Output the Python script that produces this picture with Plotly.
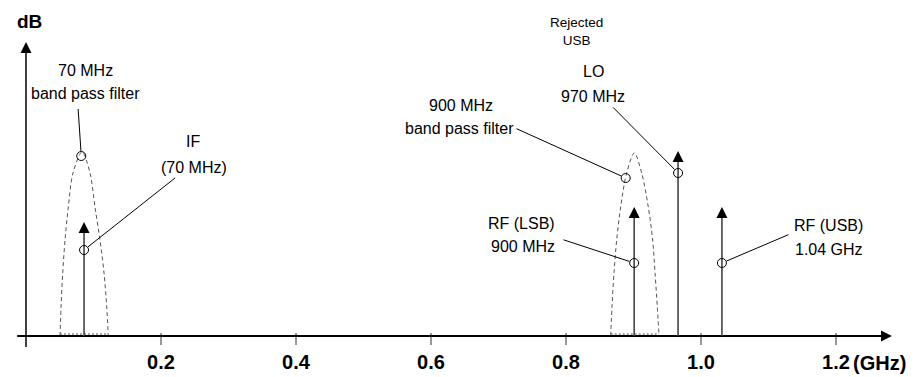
import plotly.graph_objects as go

# ---------------- data ----------------
TICK_VALUES = [0.2, 0.4, 0.6, 0.8, 1.0, 1.2]
TICK_LABELS = ["0.2", "0.4", "0.6", "0.8", "1.0", "1.2"]
X_UNIT = "(GHz)"
Y_UNIT = "dB"

SIGNAL_NAMES = ["IF", "RF (LSB)", "LO", "RF (USB)"]
SIGNAL_FREQ = [0.086, 0.901, 0.966, 1.031]      # GHz (as drawn)
SIGNAL_PEAK = [11.4, 12.9, 18.5, 12.9]          # arrow tip level
SIGNAL_MARK = [8.6, 7.3, 16.3, 7.3]             # callout circle level

BPF70_FREQ = [0.0504, 0.0519, 0.0544, 0.0578, 0.0627, 0.0696, 0.0830,
              0.0948, 0.1022, 0.1096, 0.1156, 0.1196, 0.1219]
BPF70_LEVEL = [0, 2.9, 6.3, 9.6, 12.9, 16.3, 18.4, 16.3, 12.9, 9.6, 6.3, 2.9, 0]
BPF900_FREQ = [0.8662, 0.8681, 0.8711, 0.8751, 0.8810, 0.8899, 0.9012,
               0.9121, 0.9219, 0.9284, 0.9319, 0.9353, 0.9378]
BPF900_LEVEL = [0, 2.9, 6.3, 9.6, 12.9, 16.3, 18.3, 16.3, 12.9, 9.6, 6.3, 2.9, 0]
BPF_MARK_FREQ = [0.0819, 0.8884]
BPF_MARK_LEVEL = [18.0, 15.8]

AXIS_X_END = 1.283
AXIS_Y_END = 29.4

# ---------------- layout helpers ----------------
WIN_W, WIN_H = 916, 377
PAGE_MARGIN = 8                      # default body margin of the html page
W, H = WIN_W - PAGE_MARGIN, WIN_H - PAGE_MARGIN
PX_PER_GHZ = 675.0
ORIGIN_PX = (26.0, 336.0)            # window pixels of (0 GHz, 0 dB)
PX_PER_LEVEL = 10.0
PLOT_BOTTOM_PX = 348.0               # window pixel of plot-area bottom
PLOT_TOP_PX = PAGE_MARGIN


def xd(px):
    return (px - ORIGIN_PX[0]) / PX_PER_GHZ


def yd(py):
    return (ORIGIN_PX[1] - py) / PX_PER_LEVEL


SANS = "Liberation Sans, Arial, sans-serif"

fig = go.Figure()

# filters (dashed curve + dotted base)
for fx, fy in [(BPF70_FREQ, BPF70_LEVEL), (BPF900_FREQ, BPF900_LEVEL)]:
    fig.add_trace(go.Scatter(
        x=fx, y=fy, mode="lines",
        line=dict(color="#555555", width=1, dash="4px,3px", shape="spline", smoothing=0.9),
        hoverinfo="skip", showlegend=False))
    fig.add_trace(go.Scatter(
        x=[fx[0], fx[-1]], y=[0.2, 0.2], mode="lines",
        line=dict(color="#555555", width=1, dash="2px,2px"),
        hoverinfo="skip", showlegend=False))

# tick marks
tx, ty = [], []
for v in TICK_VALUES:
    tx += [v, v, None]
    ty += [-0.9, 0.3, None]
fig.add_trace(go.Scatter(x=tx, y=ty, mode="lines", line=dict(color="#333333", width=1),
                         hoverinfo="skip", showlegend=False))

# axes with arrowheads
fig.add_trace(go.Scatter(x=[-0.013, AXIS_X_END - 0.012], y=[0, 0], mode="lines",
                         line=dict(color="black", width=2), hoverinfo="skip", showlegend=False))
fig.add_trace(go.Scatter(x=[AXIS_X_END], y=[0], mode="markers",
                         marker=dict(symbol="arrow-right", size=11, color="black"),
                         cliponaxis=False, hoverinfo="skip", showlegend=False))
fig.add_trace(go.Scatter(x=[0, 0], y=[-1.1, AXIS_Y_END - 1.0], mode="lines",
                         line=dict(color="black", width=1.5), hoverinfo="skip", showlegend=False))
fig.add_trace(go.Scatter(x=[0], y=[AXIS_Y_END], mode="markers",
                         marker=dict(symbol="arrow-up", size=11, color="black"),
                         cliponaxis=False, hoverinfo="skip", showlegend=False))

# signal stems and heads
sx, sy = [], []
for f, p in zip(SIGNAL_FREQ, SIGNAL_PEAK):
    sx += [f, f, None]
    sy += [0, p - 0.6, None]
fig.add_trace(go.Scatter(x=sx, y=sy, mode="lines", line=dict(color="#444444", width=1.6),
                         hoverinfo="skip", showlegend=False))
fig.add_trace(go.Scatter(x=SIGNAL_FREQ, y=SIGNAL_PEAK, mode="markers",
                         marker=dict(symbol="arrow-up", size=11, color="black"),
                         text=SIGNAL_NAMES, hoverinfo="text", showlegend=False))

# callout circles
fig.add_trace(go.Scatter(x=SIGNAL_FREQ + BPF_MARK_FREQ, y=SIGNAL_MARK + BPF_MARK_LEVEL,
                         mode="markers",
                         marker=dict(symbol="circle-open", size=9, color="black",
                                     line=dict(width=1, color="black")),
                         hoverinfo="skip", showlegend=False))

annotations = []

# leader lines: (start px) -> circle
leaders = [
    ((78, 107), BPF_MARK_FREQ[0], BPF_MARK_LEVEL[0]),
    ((176.7, 176.7), SIGNAL_FREQ[0], SIGNAL_MARK[0]),
    ((515, 128), BPF_MARK_FREQ[1], BPF_MARK_LEVEL[1]),
    ((611.7, 106), SIGNAL_FREQ[2], SIGNAL_MARK[2]),
    ((562, 239.3), SIGNAL_FREQ[1], SIGNAL_MARK[1]),
    ((790, 234), SIGNAL_FREQ[3], SIGNAL_MARK[3]),
]
for (px, py), cx, cy in leaders:
    annotations.append(dict(
        x=cx, y=cy, xref="x", yref="y", ax=xd(px), ay=yd(py), axref="x", ayref="y",
        text=" ", font=dict(size=1), showarrow=True, arrowhead=0, arrowwidth=1,
        arrowcolor="black", standoff=5))

labels = [
    ("70 MHz", 85.5, 70), ("band pass filter", 85, 93),
    ("IF", 193, 141), ("(70 MHz)", 193.5, 167),
    ("LO", 593.5, 71.5), ("970 MHz", 593, 96.5),
    ("900 MHz", 460.5, 105), ("band pass filter", 459.5, 128.5),
    ("RF (LSB)", 521.5, 223.5), ("900 MHz", 522.5, 246.5),
    ("RF (USB)", 828.5, 225.5), ("1.04 GHz", 829, 249),
]
for t, px, py in labels:
    annotations.append(dict(x=xd(px), y=yd(py), xref="x", yref="y", text=t, showarrow=False,
                            xanchor="center", yanchor="middle",
                            font=dict(family=SANS, size=16, color="black")))

annotations.append(dict(x=xd(576), y=yd(31.5), xref="x", yref="y", text="Rejected<br>USB",
                        showarrow=False, xanchor="center", yanchor="middle",
                        font=dict(family=SANS, size=13.5, color="black")))

annotations.append(dict(x=xd(29), y=yd(21.5), xref="x", yref="y", text=Y_UNIT, showarrow=False,
                        xanchor="center", yanchor="middle",
                        font=dict(family=SANS, size=19, color="black", weight="bold")))
plot_h = PLOT_BOTTOM_PX - PLOT_TOP_PX
annotations.append(dict(x=TICK_VALUES[-1], y=(PLOT_BOTTOM_PX - 362.5) / plot_h,
                        xref="x", yref="paper", text=X_UNIT, showarrow=False,
                        xanchor="left", yanchor="middle", xshift=15,
                        font=dict(family=SANS, size=20, color="black", weight="bold")))

fig.update_layout(
    width=W, height=H,
    margin=dict(l=0, r=0, t=0, b=int(WIN_H - PLOT_BOTTOM_PX), pad=0),
    paper_bgcolor="white", plot_bgcolor="white",
    showlegend=False,
    annotations=annotations,
    xaxis=dict(range=[xd(PAGE_MARGIN), xd(WIN_W)], tickvals=TICK_VALUES, ticktext=TICK_LABELS,
               ticks="", showgrid=False, zeroline=False, showline=False,
               tickfont=dict(family=SANS, size=20, color="black", weight="bold"),
               automargin=False, fixedrange=True),
    yaxis=dict(range=[yd(PLOT_BOTTOM_PX), yd(PLOT_TOP_PX)], visible=False, showgrid=False,
               zeroline=False, automargin=False, fixedrange=True),
)

fig.write_html("out.html")
